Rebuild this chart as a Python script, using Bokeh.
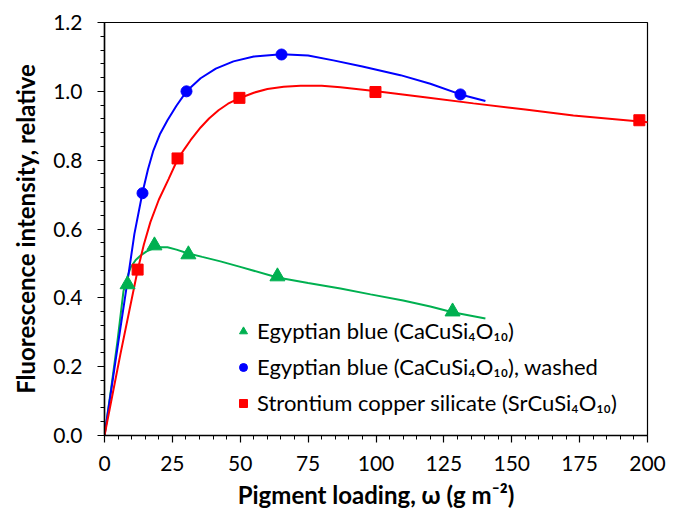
from bokeh.plotting import figure
from bokeh.models import FixedTicker, PrintfTickFormatter, Legend, LegendItem, Range1d
from bokeh.embed import file_html
from bokeh.resources import INLINE

# Measured points
eb_x = [8.5, 18.4, 30.9, 63.7, 128.2]
eb_y = [0.439, 0.552, 0.526, 0.462, 0.360]
ebw_x = [14.0, 30.2, 65.2, 131.1]
ebw_y = [0.704, 1.000, 1.107, 0.991]
sr_x = [12.2, 26.9, 49.7, 99.8, 197.0]
sr_y = [0.482, 0.805, 0.981, 0.998, 0.916]

# Trend curves
eb_cx = [0, 2.5, 4.8, 7.0, 8.5, 9.6, 11.5, 13.3, 15.5, 18.0, 20.5, 23.2, 26.5, 30.9, 36.0, 42.7, 50.0, 63.7, 75.0, 86.9, 98.0, 110.0, 120.0, 128.2, 140.3]
eb_cy = [0, 0.14, 0.276, 0.420, 0.462, 0.488, 0.510, 0.523, 0.535, 0.544, 0.547, 0.547, 0.540, 0.529, 0.519, 0.506, 0.490, 0.459, 0.443, 0.427, 0.410, 0.392, 0.375, 0.358, 0.340]
ebw_cx = [0, 3.0, 5.9, 8.5, 11.0, 14.0, 16.0, 18.0, 20.5, 23.2, 26.5, 30.2, 35.4, 41.0, 47.5, 55.0, 65.2, 75.0, 84.3, 95.0, 109.0, 120.0, 131.1, 140.3]
ebw_cy = [0, 0.16, 0.314, 0.450, 0.585, 0.706, 0.773, 0.828, 0.877, 0.916, 0.958, 1.000, 1.038, 1.066, 1.087, 1.101, 1.108, 1.104, 1.090, 1.072, 1.047, 1.022, 0.991, 0.972]
sr_cx = [0, 5.9, 12.2, 14.5, 16.9, 20.0, 23.6, 26.9, 29.5, 31.7, 35.4, 38.5, 42.0, 45.5, 49.7, 55.0, 60.0, 66.0, 72.2, 80.0, 86.9, 100.2, 118.0, 135.9, 155.0, 172.7, 200.4]
sr_cy = [0, 0.238, 0.480, 0.555, 0.620, 0.685, 0.745, 0.802, 0.833, 0.858, 0.895, 0.921, 0.945, 0.964, 0.980, 0.996, 1.007, 1.013, 1.016, 1.016, 1.012, 1.000, 0.983, 0.965, 0.947, 0.930, 0.910]

x_ticks = [0, 25, 50, 75, 100, 125, 150, 175, 200]
x_minor = list(range(0, 201, 5))
y_ticks = [0.0, 0.2, 0.4, 0.6, 0.8, 1.0, 1.2]
y_minor = [round(i * 0.04, 2) for i in range(31)]

GREEN = "#00B050"
BLUE = "#0000FF"
RED = "#FF0000"
FONT = "Lato"

p = figure(width=679, height=513, output_backend="svg", toolbar_location=None,
           x_range=Range1d(0, 200), y_range=Range1d(0, 1.2))
p.min_border_left = 104
p.min_border_right = 32
p.min_border_top = 22
p.min_border_bottom = 78
p.grid.visible = False
p.outline_line_color = "black"
p.outline_line_width = 1.2
p.background_fill_color = "white"
p.border_fill_color = "white"

for ax in (p.xaxis[0], p.yaxis[0]):
    ax.axis_line_color = "black"
    ax.axis_line_width = 1.5
    ax.major_tick_line_color = "black"
    ax.minor_tick_line_color = "black"
    ax.major_tick_line_width = 1.2
    ax.minor_tick_line_width = 1.0
    ax.major_tick_in = 0
    ax.major_tick_out = 7
    ax.minor_tick_in = 0
    ax.minor_tick_out = 4
    ax.major_label_text_font = FONT
    ax.major_label_text_font_size = "21px"
    ax.major_label_text_color = "black"
    ax.axis_label_text_font = FONT
    ax.axis_label_text_font_size = "24px"
    ax.axis_label_text_font_style = "bold"
    ax.axis_label_text_color = "black"

p.xaxis.ticker = FixedTicker(ticks=x_ticks, minor_ticks=x_minor)
p.yaxis.ticker = FixedTicker(ticks=y_ticks, minor_ticks=y_minor)
p.yaxis.formatter = PrintfTickFormatter(format="%.1f")
p.xaxis.axis_label = "Pigment loading, ω (g m⁻²)"
p.yaxis.axis_label = "Fluorescence intensity, relative"
p.xaxis.major_label_standoff = 13
p.yaxis.major_label_standoff = 15
p.xaxis.axis_label_standoff = 6
p.yaxis.axis_label_standoff = 10

p.line(eb_cx, eb_cy, line_color=GREEN, line_width=2)
p.line(ebw_cx, ebw_cy, line_color=BLUE, line_width=2)
p.line(sr_cx, sr_cy, line_color=RED, line_width=2)

r1 = p.scatter(eb_x, eb_y, marker="triangle", size=15, fill_color=GREEN, line_color=GREEN)
r2 = p.scatter(ebw_x, ebw_y, marker="circle", size=11, fill_color=BLUE, line_color=BLUE)
r3 = p.scatter(sr_x, sr_y, marker="square", size=11, fill_color=RED, line_color=RED)

legend = Legend(items=[
    LegendItem(label="Egyptian blue (CaCuSi₄O₁₀)", renderers=[r1]),
    LegendItem(label="Egyptian blue (CaCuSi₄O₁₀), washed", renderers=[r2]),
    LegendItem(label="Strontium copper silicate (SrCuSi₄O₁₀)", renderers=[r3]),
], location=(129, 19))
legend.border_line_color = None
legend.background_fill_alpha = 0
legend.label_text_font = FONT
legend.label_text_font_size = "22px"
legend.label_text_color = "black"
legend.glyph_width = 20
legend.glyph_height = 20
legend.label_height = 20
legend.spacing = 9
legend.padding = 0
legend.margin = 0
legend.label_standoff = 4
p.add_layout(legend)

open("out.html", "w").write(file_html(p, INLINE))
